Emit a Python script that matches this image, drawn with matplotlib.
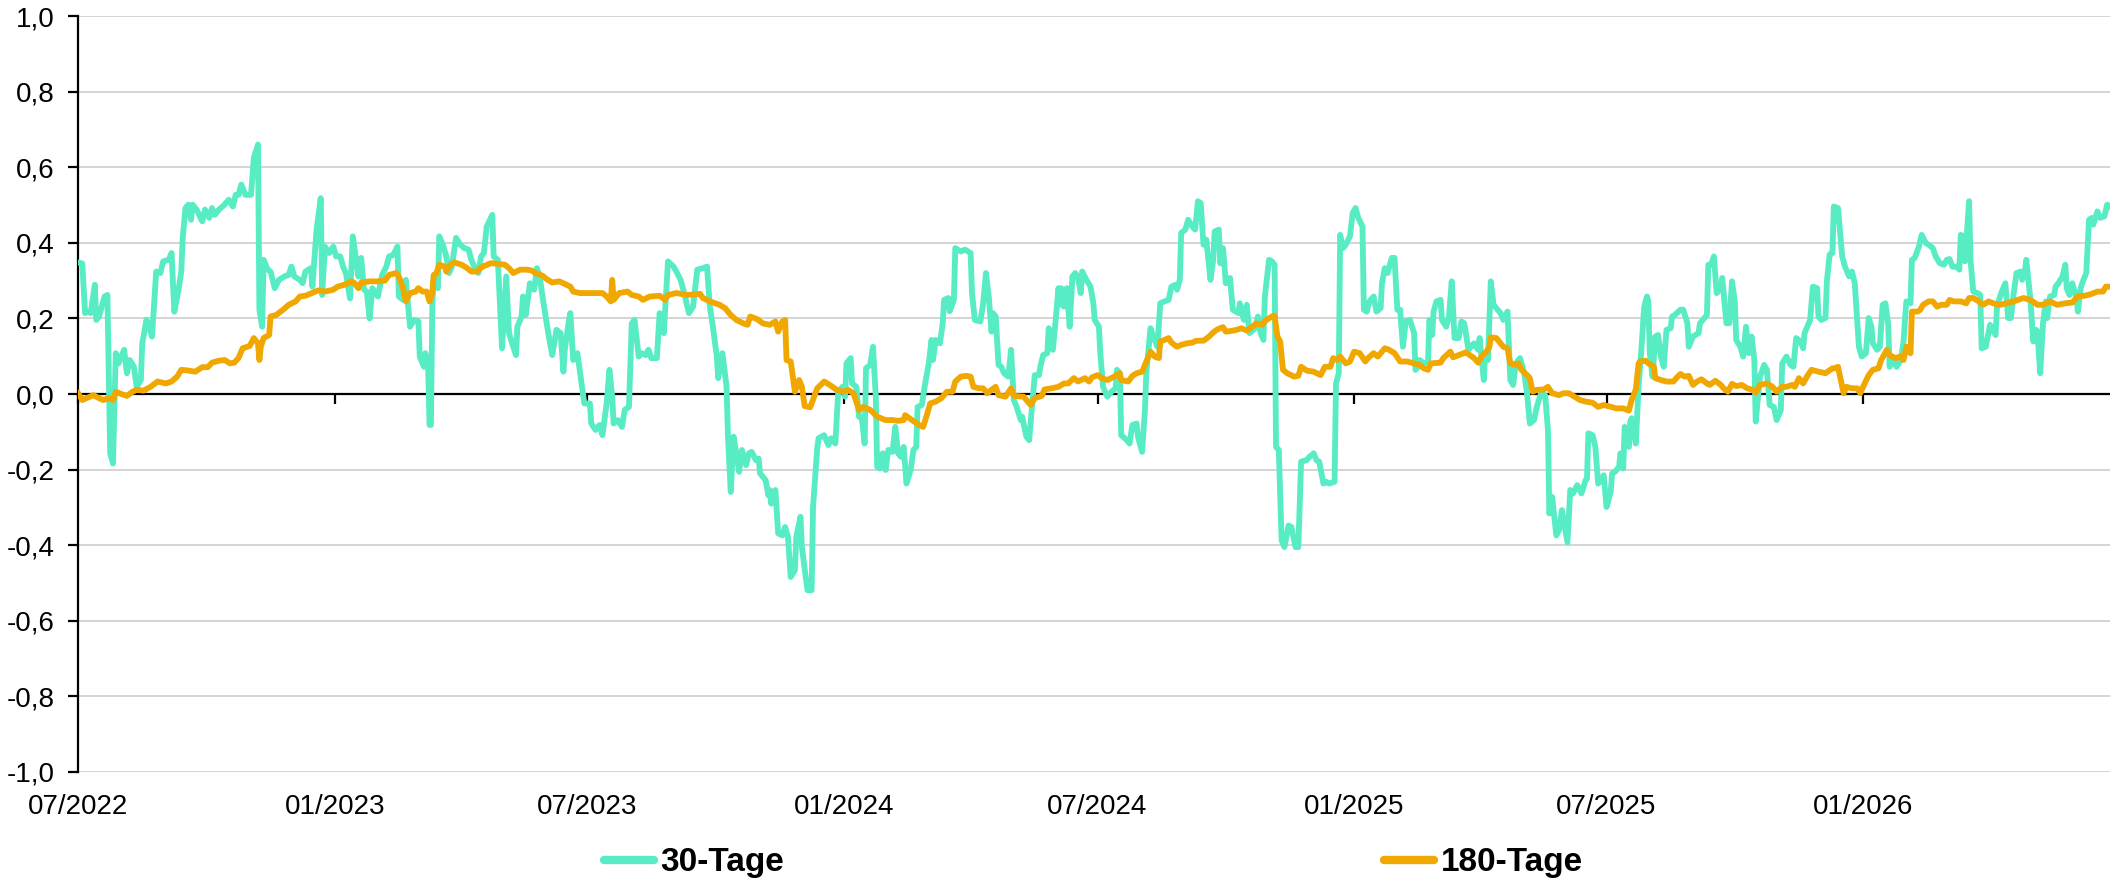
import numpy as np
import pandas as pd
import matplotlib
matplotlib.use("Agg")
import matplotlib.pyplot as plt
import matplotlib.dates as mdates
from matplotlib.ticker import FuncFormatter

start = pd.Timestamp("2022-07-01")

# days since start / correlation value
days_30 = [0, 3, 5, 7, 9, 12, 13, 15, 17, 19, 21, 23, 25, 27, 29, 33, 35, 37, 40, 42,
           45, 46, 49, 51, 53, 56, 59, 61, 65, 67, 69, 72, 74, 75, 77, 79, 81, 82, 85, 89,
           91, 94, 96, 98, 101, 105, 108, 111, 113, 115, 117, 120, 124, 126, 129, 130, 132, 133, 136, 138,
           141, 144, 148, 151, 153, 155, 159, 161, 163, 167, 168, 171, 174, 175, 177, 180, 183, 185, 188, 190,
           192, 195, 197, 198, 201, 203, 205, 207, 209, 211, 215, 218, 221, 223, 226, 229, 230, 233, 235, 238,
           241, 244, 245, 248, 249, 251, 252, 253, 254, 255, 258, 259, 262, 264, 266, 268, 271, 274, 277, 280,
           282, 285, 287, 289, 291, 293, 297, 298, 301, 304, 307, 309, 312, 314, 315, 318, 319, 321, 324, 327,
           329, 331, 333, 336, 338, 340, 343, 346, 348, 349, 352, 353, 355, 358, 360, 363, 367, 368, 371, 374,
           376, 379, 381, 383, 384, 387, 390, 392, 395, 397, 399, 402, 404, 407, 409, 411, 415, 417, 420, 423,
           427, 429, 432, 434, 438, 441, 444, 448, 451, 453, 455, 458, 459, 462, 465, 466, 468, 470, 472, 474,
           476, 479, 481, 483, 486, 488, 489, 493, 495, 496, 497, 500, 502, 505, 507, 509, 511, 514, 515, 518,
           519, 523, 526, 527, 530, 531, 535, 538, 540, 543, 545, 548, 550, 551, 554, 555, 558, 560, 562, 564,
           565, 568, 570, 572, 573, 575, 577, 579, 581, 584, 586, 588, 590, 592, 594, 597, 599, 601, 602, 605,
           607, 610, 612, 613, 615, 618, 620, 621, 624, 625, 628, 629, 633, 636, 640, 641, 643, 647, 649, 651,
           653, 655, 656, 658, 660, 662, 664, 667, 669, 671, 673, 676, 677, 680, 682, 684, 686, 689, 690, 692,
           695, 696, 699, 701, 703, 704, 705, 707, 709, 711, 713, 715, 717, 719, 720, 723, 726, 728, 729, 732,
           733, 735, 738, 741, 744, 745, 747, 748, 752, 754, 756, 759, 760, 763, 765, 766, 769, 771, 774, 776,
           779, 782, 784, 787, 788, 790, 791, 794, 796, 799, 801, 803, 805, 807, 809, 812, 814, 815, 818, 819,
           821, 823, 826, 828, 832, 833, 836, 838, 840, 844, 846, 848, 850, 851, 854, 856, 858, 859, 861, 863,
           865, 868, 870, 873, 875, 877, 881, 883, 886, 888, 890, 893, 895, 897, 901, 902, 904, 905, 907, 909,
           912, 914, 916, 918, 921, 922, 924, 926, 929, 931, 934, 935, 937, 939, 942, 944, 946, 948, 950, 952,
           955, 958, 959, 961, 962, 965, 968, 969, 971, 972, 974, 977, 978, 981, 983, 985, 987, 990, 992, 994,
           997, 999, 1001, 1004, 1005, 1008, 1009, 1011, 1013, 1015, 1017, 1020, 1022, 1025, 1027, 1029, 1031, 1034, 1037, 1039,
           1041, 1044, 1046, 1049, 1052, 1054, 1055, 1057, 1060, 1062, 1064, 1068, 1070, 1072, 1075, 1078, 1081, 1082, 1083, 1086,
           1088, 1090, 1092, 1094, 1096, 1099, 1100, 1102, 1105, 1106, 1108, 1109, 1112, 1113, 1114, 1117, 1119, 1121, 1123, 1125,
           1126, 1127, 1129, 1131, 1133, 1135, 1137, 1139, 1142, 1143, 1145, 1149, 1151, 1154, 1155, 1158, 1162, 1163, 1166, 1168,
           1169, 1171, 1173, 1175, 1178, 1179, 1182, 1184, 1186, 1188, 1189, 1192, 1194, 1196, 1198, 1200, 1202, 1203, 1206, 1207,
           1209, 1211, 1213, 1216, 1218, 1221, 1222, 1225, 1228, 1230, 1232, 1235, 1237, 1238, 1242, 1244, 1247, 1248, 1250, 1253,
           1254, 1256, 1258, 1259, 1262, 1265, 1267, 1270, 1272, 1274, 1277, 1279, 1282, 1284, 1286, 1287, 1290, 1292, 1294, 1296,
           1298, 1299, 1302, 1304, 1307, 1309, 1310, 1311, 1314, 1315, 1317, 1320, 1322, 1325, 1327, 1330, 1332, 1335, 1338, 1340,
           1342, 1344, 1347, 1349, 1350, 1352, 1353, 1356, 1357, 1359, 1362, 1364, 1365, 1368, 1371, 1375, 1376, 1379, 1382, 1384,
           1386, 1388, 1390, 1393, 1394, 1396, 1397, 1400, 1402, 1404, 1405, 1407, 1409, 1411, 1412, 1414, 1417, 1418, 1420, 1423,
           1425, 1426, 1428, 1430, 1433, 1434, 1436, 1438, 1440, 1442, 1444, 1445, 1448, 1450, 1453, 1455, 1457]
corr_30 = [0.348, 0.345, 0.214, 0.218, 0.214, 0.289, 0.196, 0.205, 0.231, 0.258, 0.262, -0.157, -0.184, 0.108, 0.081, 0.117, 0.055, 0.090, 0.072, 0.019,
           0.037, 0.134, 0.196, 0.178, 0.152, 0.324, 0.320, 0.351, 0.355, 0.373, 0.218, 0.276, 0.324, 0.412, 0.492, 0.501, 0.461, 0.501, 0.488, 0.457,
           0.488, 0.466, 0.492, 0.474, 0.488, 0.501, 0.514, 0.496, 0.527, 0.527, 0.554, 0.527, 0.527, 0.625, 0.660, 0.223, 0.178, 0.355, 0.329, 0.324,
           0.280, 0.302, 0.311, 0.315, 0.337, 0.311, 0.302, 0.293, 0.324, 0.333, 0.284, 0.435, 0.518, 0.262, 0.390, 0.373, 0.390, 0.364, 0.364, 0.337,
           0.320, 0.253, 0.417, 0.390, 0.311, 0.360, 0.276, 0.271, 0.200, 0.280, 0.258, 0.315, 0.337, 0.364, 0.368, 0.390, 0.258, 0.249, 0.302, 0.178,
           0.196, 0.192, 0.099, 0.072, 0.108, 0.072, -0.082, -0.082, 0.231, 0.311, 0.280, 0.417, 0.390, 0.364, 0.320, 0.337, 0.413, 0.395, 0.386, 0.382,
           0.355, 0.329, 0.320, 0.364, 0.373, 0.443, 0.474, 0.364, 0.355, 0.121, 0.311, 0.161, 0.125, 0.103, 0.178, 0.205, 0.258, 0.209, 0.293, 0.276,
           0.333, 0.311, 0.258, 0.187, 0.143, 0.103, 0.170, 0.161, 0.059, 0.117, 0.196, 0.214, 0.090, 0.108, 0.055, -0.025, -0.025, -0.078, -0.095, -0.082,
           -0.109, -0.025, 0.064, -0.007, -0.078, -0.069, -0.087, -0.042, -0.034, 0.187, 0.196, 0.099, 0.108, 0.103, 0.117, 0.095, 0.095, 0.214, 0.161, 0.351,
           0.337, 0.324, 0.302, 0.276, 0.214, 0.231, 0.329, 0.333, 0.337, 0.231, 0.183, 0.099, 0.042, 0.108, 0.019, -0.113, -0.259, -0.113, -0.157, -0.206,
           -0.148, -0.188, -0.157, -0.153, -0.175, -0.171, -0.210, -0.228, -0.268, -0.254, -0.290, -0.254, -0.369, -0.374, -0.352, -0.378, -0.484, -0.466, -0.378, -0.325,
           -0.405, -0.519, -0.519, -0.299, -0.144, -0.117, -0.109, -0.135, -0.117, -0.131, 0.002, 0.019, -0.007, 0.081, 0.095, 0.028, 0.019, -0.060, -0.064, -0.131,
           0.068, 0.077, 0.125, -0.007, -0.193, -0.197, -0.157, -0.201, -0.148, -0.153, -0.087, -0.157, -0.166, -0.140, -0.237, -0.201, -0.148, -0.140, -0.034, -0.029,
           0.019, 0.081, 0.143, 0.090, 0.143, 0.134, 0.187, 0.249, 0.254, 0.219, 0.249, 0.386, 0.377, 0.382, 0.373, 0.267, 0.196, 0.192, 0.240, 0.320,
           0.258, 0.165, 0.214, 0.205, 0.077, 0.072, 0.055, 0.046, 0.117, -0.016, -0.034, -0.069, -0.060, -0.113, -0.122, -0.034, 0.050, 0.050, 0.072, 0.103,
           0.108, 0.174, 0.117, 0.196, 0.280, 0.236, 0.280, 0.231, 0.280, 0.178, 0.311, 0.320, 0.307, 0.267, 0.324, 0.302, 0.284, 0.240, 0.196, 0.178,
           0.108, 0.019, -0.007, 0.006, 0.015, 0.064, 0.055, -0.109, -0.122, -0.131, -0.082, -0.078, -0.113, -0.153, -0.042, 0.055, 0.174, 0.152, 0.125, 0.240,
           0.245, 0.249, 0.284, 0.289, 0.276, 0.302, 0.426, 0.435, 0.461, 0.443, 0.435, 0.510, 0.505, 0.395, 0.408, 0.302, 0.355, 0.430, 0.435, 0.346,
           0.386, 0.293, 0.307, 0.223, 0.214, 0.240, 0.196, 0.236, 0.161, 0.174, 0.205, 0.161, 0.143, 0.258, 0.355, 0.351, 0.342, -0.140, -0.148, -0.387,
           -0.405, -0.348, -0.352, -0.405, -0.405, -0.179, -0.175, -0.166, -0.157, -0.175, -0.179, -0.237, -0.232, -0.237, -0.232, 0.028, 0.055, 0.421, 0.386, 0.395,
           0.417, 0.479, 0.492, 0.466, 0.443, 0.223, 0.218, 0.245, 0.258, 0.218, 0.227, 0.293, 0.333, 0.320, 0.360, 0.360, 0.223, 0.223, 0.125, 0.192,
           0.196, 0.161, 0.064, 0.072, 0.090, 0.081, 0.086, 0.196, 0.156, 0.218, 0.245, 0.249, 0.196, 0.178, 0.205, 0.298, 0.148, 0.148, 0.192, 0.187,
           0.117, 0.125, 0.134, 0.117, 0.148, 0.037, 0.108, 0.090, 0.298, 0.236, 0.227, 0.214, 0.196, 0.218, 0.037, 0.024, 0.081, 0.095, 0.055, 0.002,
           -0.078, -0.069, -0.034, 0.002, -0.003, -0.095, -0.316, -0.272, -0.374, -0.360, -0.307, -0.392, -0.254, -0.263, -0.241, -0.263, -0.228, -0.224, -0.104, -0.109,
           -0.140, -0.237, -0.228, -0.215, -0.299, -0.259, -0.210, -0.206, -0.193, -0.157, -0.197, -0.087, -0.140, -0.073, -0.064, -0.131, 0.019, 0.117, 0.231, 0.258,
           0.245, 0.108, 0.046, 0.152, 0.156, 0.099, 0.072, 0.170, 0.174, 0.205, 0.209, 0.223, 0.223, 0.187, 0.125, 0.152, 0.161, 0.187, 0.200, 0.209,
           0.342, 0.342, 0.364, 0.267, 0.280, 0.307, 0.187, 0.187, 0.298, 0.245, 0.143, 0.125, 0.099, 0.178, 0.108, 0.152, 0.090, -0.073, 0.046, 0.055,
           0.077, 0.064, -0.029, -0.034, -0.069, -0.042, 0.081, 0.099, 0.077, 0.072, 0.148, 0.139, 0.121, 0.161, 0.196, 0.284, 0.280, 0.205, 0.196, 0.201,
           0.298, 0.369, 0.373, 0.496, 0.492, 0.364, 0.337, 0.311, 0.324, 0.293, 0.125, 0.099, 0.108, 0.201, 0.178, 0.134, 0.117, 0.125, 0.236, 0.240,
           0.183, 0.072, 0.090, 0.072, 0.090, 0.139, 0.196, 0.245, 0.240, 0.355, 0.360, 0.390, 0.421, 0.399, 0.395, 0.386, 0.364, 0.346, 0.342, 0.355,
           0.357, 0.337, 0.337, 0.329, 0.421, 0.417, 0.351, 0.510, 0.355, 0.271, 0.267, 0.262, 0.121, 0.125, 0.183, 0.156, 0.231, 0.267, 0.293, 0.201,
           0.201, 0.267, 0.320, 0.324, 0.302, 0.324, 0.355, 0.249, 0.139, 0.170, 0.165, 0.055, 0.187, 0.245, 0.201, 0.258, 0.262, 0.284, 0.293, 0.311,
           0.342, 0.280, 0.262, 0.293, 0.254, 0.218, 0.280, 0.302, 0.320, 0.461, 0.466, 0.448, 0.483, 0.466, 0.470, 0.501, 0.496]

days_180 = [0, 3, 6, 11, 15, 18, 22, 25, 27, 31, 35, 39, 42, 47, 52, 57, 63, 67, 71, 74,
            79, 84, 89, 93, 96, 101, 105, 109, 112, 115, 118, 123, 126, 129, 130, 131, 133, 137, 138, 142,
            147, 151, 156, 159, 163, 167, 172, 177, 183, 186, 191, 196, 198, 201, 203, 209, 215, 220, 223, 228,
            230, 233, 235, 238, 242, 244, 247, 250, 252, 254, 255, 257, 259, 263, 264, 267, 270, 275, 279, 282,
            286, 290, 296, 300, 306, 309, 312, 317, 322, 325, 328, 333, 336, 340, 345, 348, 353, 355, 360, 365,
            372, 376, 379, 382, 383, 384, 388, 394, 397, 402, 405, 410, 417, 421, 423, 429, 437, 446, 448, 453,
            460, 464, 468, 472, 477, 480, 482, 487, 491, 496, 500, 502, 505, 507, 508, 511, 514, 517, 519, 521,
            525, 530, 535, 539, 544, 549, 552, 556, 560, 563, 568, 573, 579, 584, 588, 592, 593, 598, 603, 606,
            609, 611, 615, 619, 623, 627, 629, 633, 637, 640, 642, 646, 649, 652, 655, 658, 660, 665, 669, 671,
            678, 683, 686, 691, 693, 698, 703, 707, 710, 714, 717, 722, 725, 727, 731, 734, 738, 742, 747, 748,
            753, 756, 759, 763, 765, 768, 769, 772, 775, 776, 779, 782, 784, 788, 791, 795, 799, 802, 807, 811,
            814, 817, 821, 823, 827, 831, 834, 838, 842, 845, 849, 852, 857, 858, 860, 862, 864, 867, 872, 875,
            877, 881, 886, 891, 894, 898, 900, 903, 905, 909, 912, 915, 919, 923, 925, 929, 932, 937, 940, 944,
            948, 953, 958, 962, 965, 968, 970, 977, 979, 984, 986, 990, 995, 998, 1001, 1004, 1007, 1010, 1012, 1013,
            1017, 1020, 1022, 1025, 1027, 1031, 1033, 1035, 1039, 1041, 1043, 1046, 1051, 1054, 1057, 1062, 1065, 1069, 1073, 1077,
            1081, 1086, 1090, 1094, 1099, 1103, 1108, 1112, 1114, 1117, 1119, 1120, 1124, 1126, 1130, 1131, 1135, 1139, 1144, 1146,
            1149, 1152, 1155, 1158, 1161, 1164, 1168, 1170, 1174, 1178, 1180, 1183, 1186, 1189, 1193, 1197, 1200, 1203, 1206, 1211,
            1215, 1218, 1222, 1225, 1229, 1231, 1234, 1237, 1240, 1243, 1248, 1253, 1258, 1260, 1262, 1264, 1266, 1268, 1272, 1276,
            1278, 1280, 1284, 1287, 1291, 1293, 1297, 1299, 1303, 1307, 1309, 1311, 1314, 1315, 1319, 1321, 1323, 1327, 1330, 1333,
            1336, 1340, 1342, 1345, 1350, 1354, 1356, 1359, 1363, 1366, 1370, 1374, 1378, 1383, 1388, 1391, 1395, 1400, 1405, 1409,
            1414, 1419, 1425, 1430, 1434, 1439, 1444, 1448, 1452, 1454, 1457]
corr_180 = [0.002, -0.016, -0.011, -0.003, -0.011, -0.016, -0.011, -0.016, 0.006, 0.000, -0.005, 0.006, 0.011, 0.009, 0.019, 0.033, 0.028, 0.033, 0.046, 0.064,
            0.062, 0.059, 0.071, 0.071, 0.083, 0.088, 0.090, 0.081, 0.083, 0.095, 0.121, 0.127, 0.148, 0.134, 0.090, 0.125, 0.148, 0.156, 0.205, 0.209,
            0.223, 0.236, 0.245, 0.258, 0.260, 0.266, 0.274, 0.271, 0.276, 0.284, 0.289, 0.298, 0.294, 0.280, 0.295, 0.298, 0.298, 0.300, 0.315, 0.320,
            0.311, 0.280, 0.245, 0.267, 0.271, 0.280, 0.271, 0.271, 0.245, 0.267, 0.315, 0.320, 0.342, 0.337, 0.324, 0.342, 0.348, 0.342, 0.333, 0.324,
            0.324, 0.337, 0.346, 0.345, 0.342, 0.333, 0.320, 0.329, 0.329, 0.327, 0.320, 0.313, 0.304, 0.295, 0.298, 0.293, 0.284, 0.271, 0.267, 0.267,
            0.267, 0.267, 0.258, 0.245, 0.302, 0.249, 0.267, 0.271, 0.262, 0.258, 0.249, 0.258, 0.260, 0.249, 0.262, 0.267, 0.262, 0.265, 0.254, 0.245,
            0.236, 0.227, 0.209, 0.196, 0.187, 0.183, 0.205, 0.198, 0.187, 0.183, 0.192, 0.165, 0.192, 0.196, 0.090, 0.086, 0.006, 0.037, 0.019, -0.032,
            -0.035, 0.015, 0.033, 0.024, 0.011, 0.006, 0.011, 0.002, -0.042, -0.034, -0.042, -0.060, -0.069, -0.069, -0.071, -0.069, -0.056, -0.069, -0.082, -0.087,
            -0.051, -0.025, -0.020, -0.011, 0.006, 0.006, 0.033, 0.046, 0.048, 0.046, 0.019, 0.015, 0.015, 0.002, 0.011, 0.019, -0.003, -0.007, 0.015, -0.005,
            -0.007, -0.029, -0.011, -0.005, 0.012, 0.015, 0.019, 0.028, 0.028, 0.042, 0.033, 0.042, 0.033, 0.044, 0.050, 0.042, 0.037, 0.044, 0.055, 0.037,
            0.033, 0.048, 0.055, 0.059, 0.077, 0.103, 0.112, 0.099, 0.095, 0.139, 0.143, 0.148, 0.136, 0.125, 0.130, 0.134, 0.136, 0.141, 0.141, 0.152,
            0.163, 0.171, 0.177, 0.165, 0.167, 0.170, 0.174, 0.168, 0.178, 0.187, 0.183, 0.196, 0.207, 0.207, 0.152, 0.139, 0.064, 0.055, 0.046, 0.048,
            0.072, 0.062, 0.059, 0.050, 0.072, 0.072, 0.095, 0.090, 0.099, 0.081, 0.086, 0.112, 0.108, 0.086, 0.095, 0.108, 0.099, 0.121, 0.117, 0.108,
            0.086, 0.086, 0.081, 0.077, 0.068, 0.064, 0.081, 0.083, 0.095, 0.112, 0.097, 0.103, 0.110, 0.103, 0.095, 0.083, 0.103, 0.112, 0.125, 0.150,
            0.148, 0.134, 0.125, 0.121, 0.081, 0.077, 0.081, 0.064, 0.050, 0.042, 0.006, 0.011, 0.012, 0.019, 0.002, -0.003, 0.002, 0.002, -0.007, -0.016,
            -0.020, -0.023, -0.034, -0.029, -0.034, -0.038, -0.038, -0.044, -0.016, 0.012, 0.081, 0.086, 0.088, 0.081, 0.072, 0.042, 0.037, 0.033, 0.033, 0.042,
            0.053, 0.046, 0.048, 0.024, 0.033, 0.039, 0.028, 0.024, 0.035, 0.024, 0.015, 0.006, 0.027, 0.021, 0.024, 0.015, 0.012, 0.004, 0.024, 0.028,
            0.019, 0.006, 0.019, 0.019, 0.024, 0.019, 0.042, 0.028, 0.048, 0.064, 0.059, 0.055, 0.068, 0.068, 0.072, 0.037, 0.002, 0.019, 0.015, 0.015,
            0.002, 0.019, 0.050, 0.064, 0.068, 0.090, 0.117, 0.103, 0.095, 0.099, 0.090, 0.125, 0.108, 0.218, 0.218, 0.223, 0.236, 0.245, 0.245, 0.231,
            0.236, 0.236, 0.249, 0.245, 0.245, 0.240, 0.254, 0.254, 0.245, 0.236, 0.245, 0.239, 0.236, 0.240, 0.245, 0.249, 0.254, 0.249, 0.236, 0.236,
            0.245, 0.236, 0.240, 0.242, 0.258, 0.260, 0.265, 0.271, 0.271, 0.284, 0.284]

series_names = ["30-Tage", "180-Tage"]
tick_dates = pd.date_range("2022-07-01", "2026-01-01", freq="6MS")
y_ticks = np.round(np.arange(-1.0, 1.01, 0.2), 1)

dates_30 = start + pd.to_timedelta(days_30, unit="D")
dates_180 = start + pd.to_timedelta(days_180, unit="D")


def comma_fmt(v, pos):
    if abs(v) < 1e-9:
        v = 0.0
    return f"{v:.1f}".replace(".", ",")


plt.rcParams["font.family"] = ["Liberation Sans", "DejaVu Sans"]

fig = plt.figure(figsize=(21.11, 8.86), dpi=100)
ax = fig.add_axes([0.037, 0.1287, 0.9625, 0.8532])

ax.plot(dates_30, corr_30, color="#58ECC4", lw=4.2, label=series_names[0], zorder=3,
        solid_joinstyle="round")
ax.plot(dates_180, corr_180, color="#F0A800", lw=4.2, label=series_names[1], zorder=4,
        solid_joinstyle="round")

ax.set_ylim(-1, 1)
ax.set_xlim(dates_30[0], dates_30[-1])
ax.set_yticks(y_ticks)
ax.yaxis.set_major_formatter(FuncFormatter(comma_fmt))
ax.set_xticks(tick_dates)
ax.xaxis.set_major_formatter(mdates.DateFormatter("%m/%Y"))

ax.grid(axis="y", color="#D4D4D4", lw=1.4)
ax.set_axisbelow(True)
ax.axhline(0, color="black", lw=1.6, zorder=1)

for s in ["top", "right", "bottom"]:
    ax.spines[s].set_visible(False)
ax.spines["left"].set_linewidth(1.6)
ax.tick_params(axis="y", length=7, width=1.6, pad=10, labelsize=20)
ax.tick_params(axis="x", length=0, pad=16, labelsize=20)

# tick marks on the zero line
sec = ax.secondary_xaxis(0.5)
sec.set_alignment("bottom")
sec.set_xticks(mdates.date2num(tick_dates))
sec.tick_params(axis="x", direction="out", length=7, width=1.6, labelbottom=False, labeltop=False)
sec.spines["bottom"].set_visible(False)
sec.spines["top"].set_visible(False)

leg = fig.legend(loc="center", bbox_to_anchor=(0.518, 0.026), ncol=2, frameon=False,
                 handlelength=1.5, handletextpad=0.2, columnspacing=18,
                 prop={"family": ["Liberation Sans Narrow", "Liberation Sans"], "weight": "bold", "size": 24})
for line in leg.get_lines():
    line.set_linewidth(6)
    line.set_solid_capstyle("round")

fig.savefig("out.png", dpi=100)
